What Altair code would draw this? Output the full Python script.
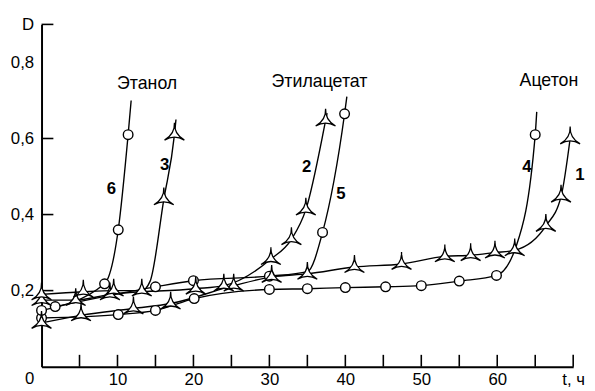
import altair as alt
import pandas as pd

# ---- data ----
# curves 1-3: star markers, curves 4-6: circle markers
c1_t = [0, 5.2, 12.1, 17, 25.3, 30.3, 35, 41.2, 47.4, 53.1, 56.5, 59.7, 62.3, 66.4, 68.4, 69.6]
c1_d = [0.115, 0.135, 0.153, 0.166, 0.213, 0.236, 0.244, 0.262, 0.27, 0.29, 0.293, 0.30, 0.306, 0.37, 0.447, 0.60]
c1_m = [1] * 16

c2_t = [0, 4.5, 9, 20.3, 24, 30.2, 32.9, 34.8, 37.4, 37.6]
c2_d = [0.175, 0.175, 0.19, 0.205, 0.213, 0.283, 0.335, 0.413, 0.647, 0.667]
c2_m = [1, 1, 1, 1, 1, 1, 1, 1, 1, 0]

c3_t = [0, 5.5, 9.5, 13.2, 14.3, 16.1, 17.5, 17.7]
c3_d = [0.19, 0.197, 0.2, 0.2, 0.225, 0.44, 0.61, 0.65]
c3_m = [1, 1, 1, 1, 0, 1, 1, 0]

c4_t = [0, 10.1, 15, 20.1, 30, 35, 40, 45.3, 50, 55, 59.9, 62.5, 65, 65.2]
c4_d = [0.128, 0.137, 0.148, 0.179, 0.203, 0.205, 0.208, 0.21, 0.213, 0.225, 0.24, 0.317, 0.61, 0.67]
c4_m = [1, 1, 1, 1, 1, 1, 1, 1, 1, 1, 1, 0, 1, 0]

c5_t = [1.8, 15, 20, 30, 35, 37, 39.9, 40.2]
c5_d = [0.158, 0.21, 0.226, 0.238, 0.25, 0.353, 0.665, 0.71]
c5_m = [1, 1, 1, 1, 0, 1, 1, 0]

c6_t = [0, 8.3, 10.1, 11.4, 11.8]
c6_d = [0.148, 0.218, 0.36, 0.61, 0.70]
c6_m = [1, 1, 1, 1, 0]

curve_names = ["1", "2", "3", "4", "5", "6"]
curve_marker = ["star", "star", "star", "circle", "circle", "circle"]

# curve number labels
num_text = ["6", "3", "2", "5", "4", "1"]
num_t = [9.2, 16.2, 34.9, 39.4, 63.9, 70.9]
num_d = [0.467, 0.529, 0.524, 0.454, 0.524, 0.503]

# solvent labels
sol_text = ["Этанол", "Этилацетат", "Ацетон"]
sol_t = [13.9, 36.6, 66.8]
sol_d = [0.744, 0.749, 0.75]

x_tick_vals = [5, 10, 15, 20, 25, 30, 35, 40, 45, 50, 55, 60, 65, 70]
x_label_vals = [10, 20, 30, 40, 50, 60, 70]
y_tick_vals = [0.2, 0.4, 0.6, 0.9]
y_label_vals = [0.2, 0.4, 0.6, 0.8, 0.9]

# ---- build tables ----
rows = []
series = [(c1_t, c1_d, c1_m), (c2_t, c2_d, c2_m), (c3_t, c3_d, c3_m),
          (c4_t, c4_d, c4_m), (c5_t, c5_d, c5_m), (c6_t, c6_d, c6_m)]
for name, mk, (ts, ds, ms) in zip(curve_names, curve_marker, series):
    for i, (t, d, m) in enumerate(zip(ts, ds, ms)):
        rows.append({"curve": name, "i": i, "t": t, "D": d, "m": m, "shape": mk})
df = pd.DataFrame(rows)

FONT = "Liberation Sans"
xs = alt.Scale(domain=[0, 70], nice=False, zero=False)
ys = alt.Scale(domain=[0, 0.9], nice=False, zero=False)

STAR = ("M0,-1.1 Q-0.05,-0.05 0.92,0.5 Q0,-0.05 -0.92,0.5 Q0.05,-0.05 0,-1.1 Z")

base = alt.Chart(df)

lines = base.mark_line(interpolate="monotone", color="black", strokeWidth=1.4, clip=False).encode(
    x=alt.X("t:Q", scale=xs, title=None,
            axis=alt.Axis(values=x_label_vals, ticks=False, grid=False, domainColor="black",
                          domainWidth=2, labelFontSize=17, labelFont=FONT, labelColor="black",
                          labelPadding=5, labelFlush=False,
                          labelExpr="datum.value == 70 ? 't, ч' : datum.label")),
    y=alt.Y("D:Q", scale=ys, title=None,
            axis=alt.Axis(values=y_label_vals, ticks=False, grid=False, domainColor="black",
                          domainWidth=2, labelFontSize=17, labelFont=FONT, labelColor="black",
                          labelPadding=8, labelFlush=False,
                          labelExpr="datum.value == 0.9 ? 'D' : replace(format(datum.value, '.1f'), '.', ',')")),
    detail="curve:N",
    order="i:Q",
)

circles = base.transform_filter("datum.m == 1 && datum.shape == 'circle'").mark_point(
    shape="circle", size=95, filled=True, fill="white", stroke="black", strokeWidth=1.4,
    opacity=1, clip=False
).encode(x=alt.X("t:Q", scale=xs), y=alt.Y("D:Q", scale=ys))

stars = base.transform_filter("datum.m == 1 && datum.shape == 'star'").mark_point(
    shape=STAR, size=480, filled=True, fill="white", stroke="black", strokeWidth=1.3,
    opacity=1, clip=False
).encode(x=alt.X("t:Q", scale=xs), y=alt.Y("D:Q", scale=ys))

xt = alt.Chart(pd.DataFrame({"v": x_tick_vals})).mark_rule(color="black", strokeWidth=1.6).encode(
    x=alt.X("v:Q", scale=xs), y=alt.value(347), y2=alt.value(335))
yt = alt.Chart(pd.DataFrame({"v": y_tick_vals})).mark_rule(color="black", strokeWidth=1.6).encode(
    y=alt.Y("v:Q", scale=ys), x=alt.value(0), x2=alt.value(12))

nums = alt.Chart(pd.DataFrame({"s": num_text, "t": num_t, "D": num_d})).mark_text(
    font=FONT, fontSize=17, fontWeight="bold", color="black", align="center", baseline="middle"
).encode(x=alt.X("t:Q", scale=xs), y=alt.Y("D:Q", scale=ys), text="s:N")

sols = alt.Chart(pd.DataFrame({"s": sol_text, "t": sol_t, "D": sol_d})).mark_text(
    font=FONT, fontSize=18, color="black", align="center", baseline="middle"
).encode(x=alt.X("t:Q", scale=xs), y=alt.Y("D:Q", scale=ys), text="s:N")

zero = alt.Chart(pd.DataFrame({"s": ["0"], "t": [0], "D": [0]})).mark_text(
    font=FONT, fontSize=17, color="black", align="center", baseline="middle", dx=-12, dy=13
).encode(x=alt.X("t:Q", scale=xs), y=alt.Y("D:Q", scale=ys), text="s:N")

chart = alt.layer(lines, xt, yt, circles, stars, nums, sols, zero).properties(
    width=539, height=347,
    padding={"left": 34, "top": 14, "right": 14, "bottom": 20},
    autosize=alt.AutoSizeParams(type="none"),
).configure_view(stroke=None)

chart.save("out.html", embed_options={"renderer": "svg", "actions": False})
